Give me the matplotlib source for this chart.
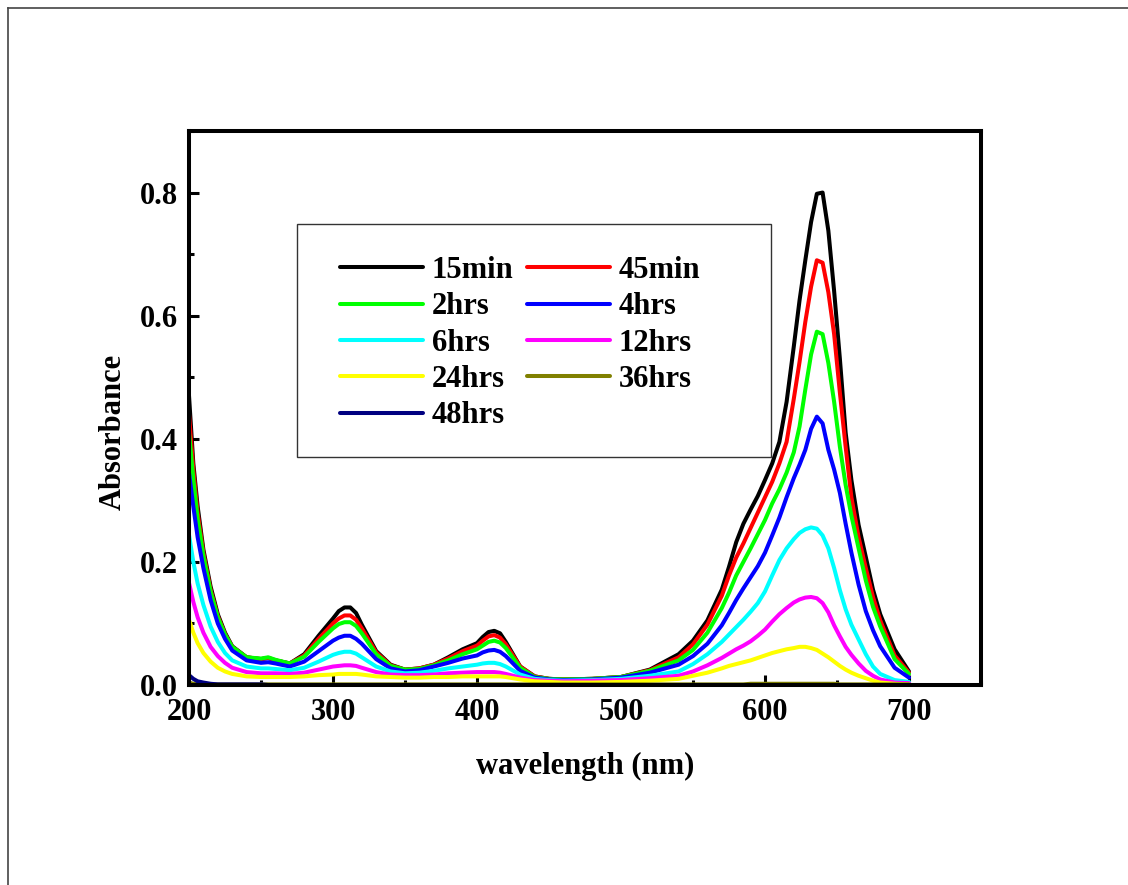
import matplotlib
matplotlib.use("Agg")
import matplotlib.pyplot as plt
from matplotlib.lines import Line2D
from matplotlib.patches import Rectangle
from matplotlib.ticker import MultipleLocator

plt.rcParams['font.family'] = ['Liberation Serif', 'DejaVu Serif']
plt.rcParams['font.weight'] = 'bold'

# Wavelength grid (nm)
wavelength = [200, 203, 206, 210, 215, 220, 225, 230,
              240, 250, 255, 260, 270, 280, 290, 300,
              304, 308, 312, 316, 320, 330, 340, 350,
              360, 370, 380, 390, 400, 404, 408, 412,
              416, 420, 430, 440, 450, 460, 480, 500,
              520, 540, 550, 560, 570, 575, 580, 585,
              590, 595, 600, 605, 610, 615, 620, 624,
              628, 632, 636, 640, 644, 648, 652, 656,
              660, 665, 670, 675, 680, 690, 700]

abs_15min = [.470, .360, .290, .220, .160, .115, .085, .063,
             .045, .042, .044, .040, .035, .050, .080, .108,
             .120, .126, .126, .117, .098, .055, .033, .025,
             .027, .033, .045, .058, .068, .078, .086, .088,
             .084, .070, .030, .014, .010, .009, .010, .013,
             .025, .050, .072, .105, .155, .192, .232, .262,
             .285, .307, .333, .360, .395, .460, .550, .625,
             .690, .752, .798, .800, .738, .640, .530, .410,
             .333, .260, .208, .155, .115, .058, .022]

abs_45min = [.440, .350, .280, .215, .155, .112, .083, .062,
             .045, .042, .044, .040, .035, .048, .075, .100,
             .108, .113, .113, .106, .092, .053, .032, .025,
             .027, .033, .043, .055, .064, .072, .079, .081,
             .077, .066, .030, .014, .010, .009, .010, .013,
             .024, .045, .066, .098, .145, .178, .207, .230,
             .255, .280, .305, .330, .360, .395, .465, .525,
             .590, .647, .690, .686, .638, .570, .475, .387,
             .305, .240, .190, .143, .105, .048, .020]

abs_2hrs = [.410, .335, .270, .210, .152, .110, .082, .062,
            .045, .043, .045, .041, .035, .046, .070, .092,
            .099, .102, .102, .096, .084, .050, .031, .025,
            .026, .032, .040, .050, .058, .064, .070, .072,
            .069, .060, .028, .013, .010, .009, .010, .013,
            .023, .040, .057, .085, .125, .150, .178, .200,
            .222, .245, .268, .295, .318, .345, .378, .420,
            .480, .537, .574, .570, .523, .460, .387, .325,
            .275, .222, .170, .127, .095, .042, .018]

abs_4hrs = [.345, .290, .240, .190, .138, .100, .075, .056,
            .040, .036, .037, .035, .030, .038, .055, .072,
            .077, .080, .080, .075, .067, .042, .027, .022,
            .024, .030, .036, .043, .048, .053, .056, .057,
            .054, .047, .023, .012, .009, .008, .009, .012,
            .020, .033, .047, .067, .097, .117, .138, .157,
            .175, .193, .215, .243, .272, .305, .336, .358,
            .382, .416, .436, .425, .382, .350, .312, .262,
            .215, .163, .120, .089, .063, .028, .012]

abs_6hrs = [.244, .200, .165, .130, .095, .070, .052, .040,
            .030, .027, .027, .026, .024, .028, .038, .049,
            .052, .054, .054, .051, .045, .030, .022, .019,
            .020, .023, .027, .030, .033, .035, .036, .036,
            .034, .030, .017, .010, .008, .007, .008, .010,
            .015, .022, .034, .050, .070, .082, .094, .106,
            .119, .133, .152, .178, .203, .222, .237, .247,
            .253, .256, .254, .243, .222, .190, .154, .123,
            .098, .074, .050, .030, .018, .008, .005]

abs_12hrs = [.166, .135, .110, .085, .062, .047, .036, .028,
             .021, .019, .019, .019, .018, .020, .025, .030,
             .031, .032, .032, .031, .028, .021, .017, .016,
             .016, .017, .019, .020, .021, .021, .021, .021,
             .020, .018, .012, .008, .007, .006, .007, .008,
             .011, .015, .022, .032, .044, .051, .058, .064,
             .071, .080, .090, .103, .115, .125, .134, .139,
             .142, .143, .141, .133, .118, .097, .079, .062,
             .049, .035, .023, .015, .009, .004, .003]

abs_24hrs = [.106, .085, .068, .052, .038, .028, .022, .018,
             .014, .013, .013, .013, .013, .014, .016, .017,
             .018, .018, .018, .018, .017, .014, .013, .012,
             .012, .013, .013, .014, .014, .014, .014, .014,
             .014, .013, .009, .006, .005, .004, .004, .005,
             .007, .010, .015, .020, .027, .031, .034, .037,
             .040, .044, .048, .052, .055, .058, .060, .062,
             .062, .060, .057, .051, .045, .038, .031, .025,
             .020, .015, .011, .007, .004, .002, .001]

abs_36hrs = [.004, .002, .002, .001, .001, .001, .001, .001,
             .001, .001, .001, .001, .001, .001, .001, .001,
             .001, .001, .001, .001, .001, .001, .001, .001,
             .001, .001, .001, .001, .001, .001, .001, .001,
             .001, .001, .001, .001, .001, .001, .001, .001,
             .001, .001, .001, .001, .001, .001, .001, .001,
             .002, .002, .002, .002, .002, .002, .002, .002,
             .002, .002, .002, .002, .002, .002, .001, .001,
             .001, .001, .001, .001, .001, .001, .001]

abs_48hrs = [.016, .010, .006, .004, .002, .001, .001, .001,
             .001, .001, .000, .000, .000, .000, .000, .000,
             .000, .000, .000, .000, .000, .000, .000, .000,
             .000, .000, .000, .000, .000, .000, .000, .000,
             .000, .000, .000, .000, .000, .000, .000, .000,
             .000, .000, .000, .000, .000, .000, .000, .000,
             .000, .000, .000, .000, .000, .000, .000, .000,
             .000, .000, .000, .000, .000, .000, .000, .000,
             .000, .000, .000, .000, .000, .000, .000]

labels = ['15min', '45min', '2hrs', '4hrs', '6hrs', '12hrs', '24hrs', '36hrs', '48hrs']
series = [abs_15min, abs_45min, abs_2hrs, abs_4hrs, abs_6hrs,
          abs_12hrs, abs_24hrs, abs_36hrs, abs_48hrs]
colors = ['#000000', '#FF0000', '#00FF00', '#0000FF', '#00FFFF',
          '#FF00FF', '#FFFF00', '#808000', '#000080']

fig = plt.figure(figsize=(11.28, 8.85), dpi=100)
ax = fig.add_axes([189 / 1128, 1 - 685 / 885, 792 / 1128, 554 / 885])

handles = []
for y, lab, c in zip(series, labels, colors):
    h, = ax.plot(wavelength, y, color=c, lw=2.9, label=lab,
                 solid_joinstyle='round', solid_capstyle='round')
    handles.append(h)

ax.set_xlim(200, 750)
ax.set_ylim(0, 0.9)
ax.xaxis.set_minor_locator(MultipleLocator(50))
ax.yaxis.set_minor_locator(MultipleLocator(0.1))
ax.set_xticks([200, 300, 400, 500, 600, 700])
ax.set_xticklabels(['200', '300', '400', '500', '600', '700'])
ax.set_yticks([0.0, 0.2, 0.4, 0.6, 0.8])
ax.set_yticklabels(['0.0', '0.2', '0.4', '0.6', '0.8'])

ax.tick_params(which='both', direction='in', top=False, right=False,
               labelsize=22, width=2.2)
ax.tick_params(axis='x', which='major', length=7, pad=9)
ax.tick_params(axis='y', which='major', length=7, pad=8)
ax.tick_params(which='minor', length=3.5)
for lbl in ax.get_xticklabels() + ax.get_yticklabels():
    lbl.set_fontweight('bold')

for sp in ax.spines.values():
    sp.set_linewidth(2.9)
    sp.set_color('black')

ax.set_xlabel('wavelength (nm)', fontsize=22, fontweight='bold')
ax.set_ylabel('Absorbance', fontsize=22, fontweight='bold')
ax.xaxis.set_label_coords(0.5, -0.121)
ax.yaxis.set_label_coords(-0.077, 0.457)

# Legend box, entries laid out row by row in two columns
ax.add_patch(Rectangle((108 / 792, 228 / 554), 474 / 792, 233 / 554,
                       transform=ax.transAxes, fill=False,
                       edgecolor='#333333', lw=1.0, zorder=5))
order = [0, 2, 4, 6, 8, 1, 3, 5, 7]
leg = ax.legend(handles=[handles[i] for i in order], ncol=2, frameon=False,
                loc='upper left', bbox_to_anchor=(151 / 792, 429 / 554),
                borderpad=0, borderaxespad=0, handlelength=2.7,
                handletextpad=0.3, columnspacing=0.45, labelspacing=0.24,
                prop={'family': 'Liberation Serif', 'weight': 'bold', 'size': 22})
for lh in leg.get_lines():
    lh.set_linewidth(2.9)

# Outer frame edges
fig.add_artist(Line2D([8 / 1128, 1.0], [1 - 8 / 885, 1 - 8 / 885],
                      transform=fig.transFigure, color='#444444', lw=1.2))
fig.add_artist(Line2D([8 / 1128, 8 / 1128], [0.0, 1 - 8 / 885],
                      transform=fig.transFigure, color='#444444', lw=1.2))

fig.savefig('out.png', dpi=100)
